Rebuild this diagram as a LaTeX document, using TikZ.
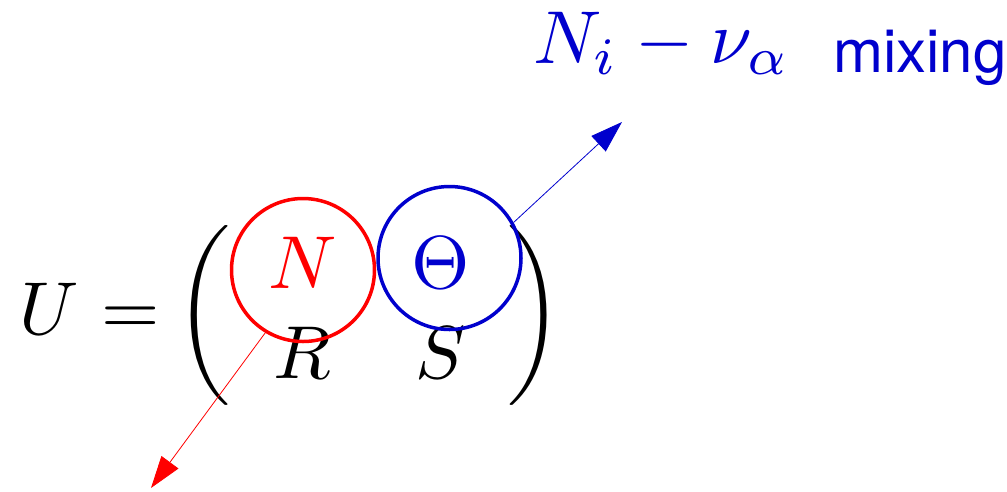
\documentclass[tikz,border=0pt]{standalone}
\usepackage{amsmath}
\usepackage[no-math]{fontspec}
\newfontfamily\heros{TeX Gyre Heros}
\usetikzlibrary{arrows.meta}
\definecolor{mblue}{RGB}{0,0,205}
\definecolor{mred}{RGB}{255,0,0}
\tikzset{
  mathtext/.style={anchor=base west, inner sep=0pt, scale=7.5},
  ring/.style={circle, line width=3.5pt, minimum size=143pt, inner sep=0pt},
  pointer/.style={line width=0.8pt, -{Triangle[length=32pt,width=21pt]}}
}
\begin{document}
\begin{tikzpicture}[x=1pt,y=-1pt]
\useasboundingbox (0,0) rectangle (1007,491);
\node[mathtext] (eq) at (18,334)
  {$\thickmuskip=5.5mu U = \mskip-1.8mu \left(\begin{array}{cc} \textcolor{mred}{N} & \textcolor{mblue}{\Theta} \\ R & S \end{array}\right)$};
\node[ring, draw=mred] (rc) at (303,270) {};
\node[ring, draw=mblue] (bc) at (449.5,258) {};
\coordinate (rt) at (151,488);
\coordinate (bt) at (622,122);
\draw[pointer, mred] (rc.239) -- (rt);
\draw[pointer, mblue] (bc.29) -- (bt);
\node[mathtext, text=mblue] (lab) at (532,63) {$N_i - \nu_\alpha$};
\node[anchor=base west, inner sep=0pt, scale=6, text=mblue, font=\heros] (mix) at (832,72) {mixing};
\end{tikzpicture}
\end{document}
